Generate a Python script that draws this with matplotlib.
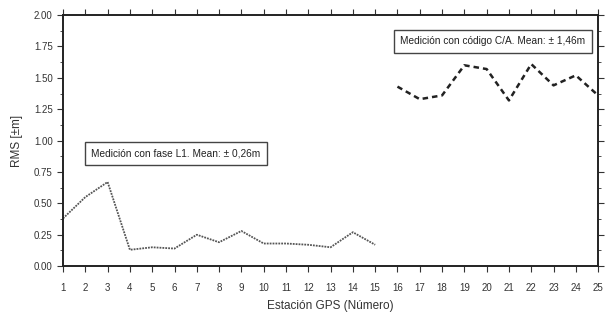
import matplotlib.pyplot as plt
from matplotlib.ticker import MultipleLocator

plt.rcParams['font.family'] = ['Liberation Sans Narrow', 'Liberation Sans', 'DejaVu Sans']

est_l1 = list(range(1, 16))
rms_l1 = [0.38, 0.55, 0.67, 0.13, 0.15, 0.14, 0.25, 0.19, 0.28, 0.18, 0.18, 0.17, 0.15, 0.27, 0.17]

est_ca = list(range(16, 26))
rms_ca = [1.43, 1.33, 1.36, 1.60, 1.57, 1.32, 1.61, 1.44, 1.52, 1.36]

fig = plt.figure(figsize=(6.06, 3.21), dpi=100)
ax = fig.add_axes([0.104, 0.171, 0.883, 0.782])

ax.plot(est_l1, rms_l1, color='#555555', lw=1.3, ls=(0, (1, 0.6)))
ax.plot(est_ca, rms_ca, color='#222222', lw=1.8, ls=(0, (2.2, 1.6)))

ax.set_xlim(1, 25)
ax.set_ylim(0, 2)
ax.set_xticks(range(1, 26))
ax.yaxis.set_major_locator(MultipleLocator(0.25))
ax.yaxis.set_minor_locator(MultipleLocator(0.125))
ax.set_yticklabels([f'{v:.2f}' for v in ax.get_yticks()])
ax.tick_params(axis='both', which='both', direction='out', labelsize=7,
               top=True, right=True, color='#333333', labelcolor='#333333')
ax.tick_params(which='major', length=4)
ax.tick_params(which='minor', length=2.5)
ax.tick_params(axis='x', pad=8)
for s in ax.spines.values():
    s.set_linewidth(1.4)
    s.set_color('#222222')

ax.set_xlabel('Estación GPS (Número)', fontsize=8.5, color='#333333', labelpad=5)
ax.set_ylabel('RMS [±m]', fontsize=8.5, color='#333333', labelpad=8)

box = dict(boxstyle='square,pad=0.65', fc='white', ec='#444444', lw=1)
ax.text(6.07, 0.90, 'Medición con fase L1. Mean: ± 0,26m', fontsize=7.3,
        va='center', ha='center', bbox=box, color='#222222')
ax.text(20.28, 1.79, 'Medición con código C/A. Mean: ± 1,46m', fontsize=7.3,
        va='center', ha='center', bbox=box, color='#222222')

fig.savefig('out.png', dpi=100)
